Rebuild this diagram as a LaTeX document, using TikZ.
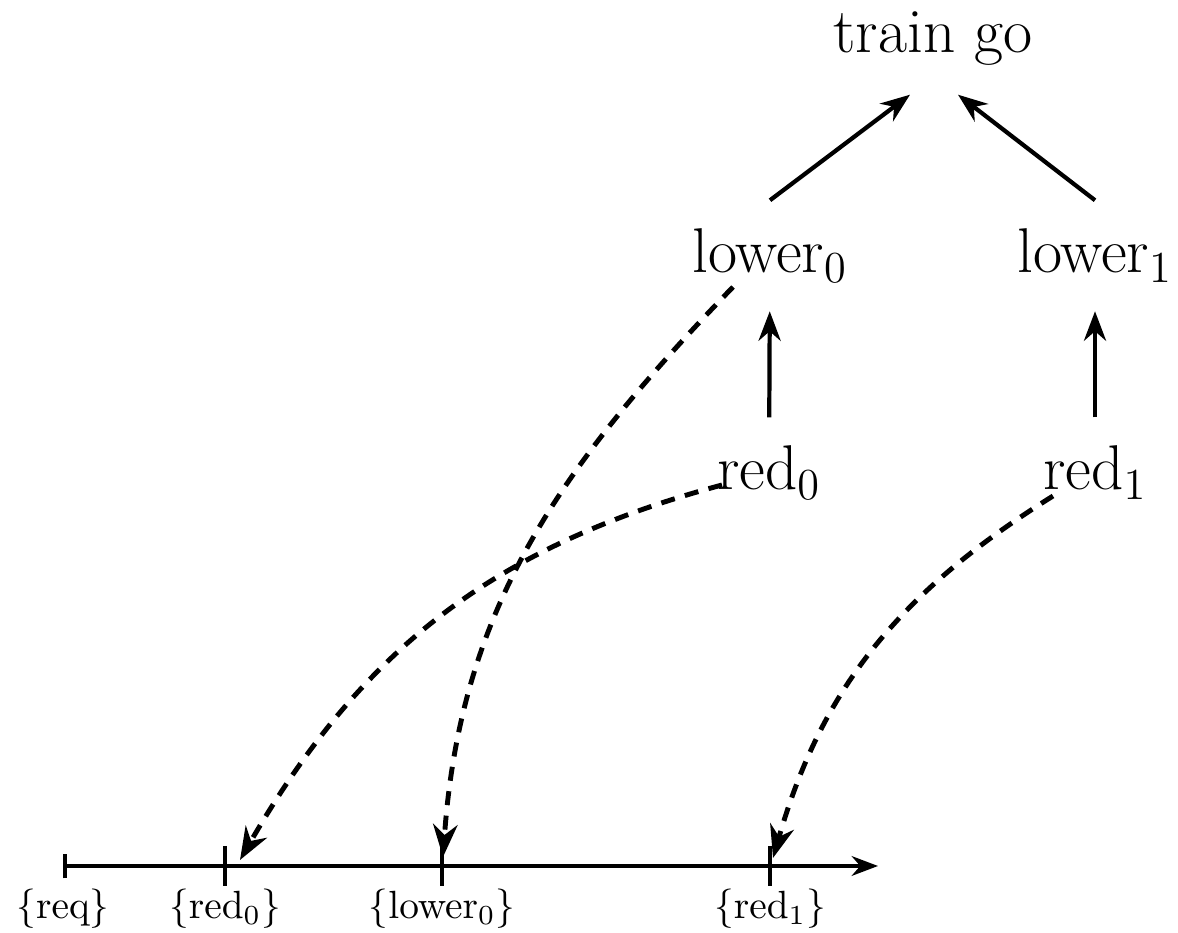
\RequirePackage{fix-cm}
\documentclass[tikz,border=0pt]{standalone}
\usetikzlibrary{arrows.meta,positioning}
\begin{document}
\begin{tikzpicture}[>={Stealth}]
        \tikzset{
            stage/.style = {font = \fontsize{18}{22}\selectfont, inner sep = 8pt, anchor = base},
            stamp/.style = {font = \fontsize{11.2}{13}\selectfont, inner sep = 0pt, anchor = base},
            flow/.style = {->, very thick},
            jump/.style = {->, line width = 1.4pt, dash pattern = on 4pt off 3pt}
        }
        \useasboundingbox (0, 0) rectangle (11.78, 9.33);
        % levels
        \node[stage] (go) at (9.33, 8.80) {train go};
        \node[stage] (lower0) at (7.70, 6.60) {lower$_0$};
        \node[stage] (lower1) at (10.95, 6.60) {lower$_1$};
        \node[stage] (red0) at (7.69, 4.43) {red$_0$};
        \node[stage] (red1) at (10.95, 4.43) {red$_1$};
        \draw[flow] (red0) -- (lower0);
        \draw[flow] (red1) -- (lower1);
        \draw[flow] (lower0.north) -- ([xshift = -0.23cm]go.south);
        \draw[flow] (lower1.north) -- ([xshift = 0.25cm]go.south);
        % time line
        \coordinate (t0) at (0.63, 0.67);
        \coordinate (t1) at (2.25, 0.67);
        \coordinate (t2) at (4.42, 0.67);
        \coordinate (t3) at (7.70, 0.67);
        \coordinate (tend) at (8.78, 0.67);
        \draw[line width = 1pt, {Bar[width = 7pt]}->] (t0) -- (tend);
        \foreach \t in {t1, t2, t3}{
            \draw[line width = 1pt] ([yshift = 0.2cm]\t) -- ([yshift = -0.2cm]\t);
        }
        \node[stamp] (sreq) at ([yshift = -0.53cm]t0) {$\{\mathrm{req}\}$};
        \node[stamp] (sred0) at ([yshift = -0.53cm]t1) {$\{\mathrm{red}_0\}$};
        \node[stamp] (slower0) at ([yshift = -0.53cm]t2) {$\{\mathrm{lower}_0\}$};
        \node[stamp] (sred1) at ([yshift = -0.53cm]t3) {$\{\mathrm{red}_1\}$};
        % jumps
        \draw[jump] ([shift = {(-0.47, 0.05)}]red0.base) to[out = 195, in = 60] ([shift = {(0.15, 0.06)}]t1);
        \draw[jump] ([shift = {(-0.37, -0.14)}]lower0.base) to[out = 226, in = 86] ([shift = {(0.01, 0.09)}]t2);
        \draw[jump] ([shift = {(-0.42, -0.06)}]red1.base) to[out = 212, in = 74] ([shift = {(0.03, 0.08)}]t3);
    \end{tikzpicture}
\end{document}
